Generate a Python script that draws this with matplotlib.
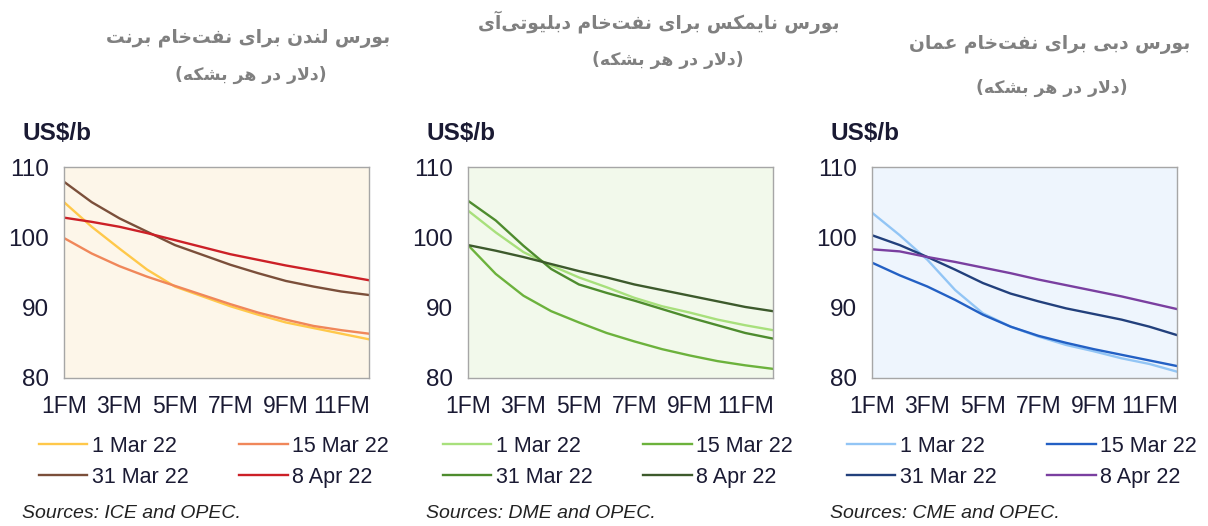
import numpy as np
import matplotlib
matplotlib.use('Agg')
import matplotlib.pyplot as plt

W, H = 1208, 526

months = np.arange(1, 13)
tick_months = [1, 3, 5, 7, 9, 11]
tick_labels = ['1FM', '3FM', '5FM', '7FM', '9FM', '11FM']
dates = ['1 Mar 22', '15 Mar 22', '31 Mar 22', '8 Apr 22']

# Brent (ICE)
brent_1mar = [105.0, 101.5, 98.4, 95.4, 93.0, 91.6, 90.2, 89.0, 87.9, 87.1, 86.3, 85.5]
brent_15mar = [99.9, 97.7, 95.9, 94.4, 93.1, 91.8, 90.5, 89.3, 88.3, 87.4, 86.8, 86.3]
brent_31mar = [107.9, 105.0, 102.7, 100.8, 98.9, 97.5, 96.1, 94.9, 93.8, 93.0, 92.3, 91.8]
brent_8apr = [102.8, 102.2, 101.5, 100.6, 99.6, 98.6, 97.6, 96.8, 96.0, 95.3, 94.6, 93.9]

# WTI (DME)
wti_1mar = [103.8, 100.7, 97.9, 96.0, 94.3, 92.9, 91.4, 90.2, 89.3, 88.3, 87.5, 86.8]
wti_15mar = [98.9, 94.8, 91.7, 89.5, 87.9, 86.4, 85.2, 84.1, 83.2, 82.4, 81.8, 81.3]
wti_31mar = [105.2, 102.4, 98.8, 95.5, 93.3, 92.1, 91.0, 89.8, 88.6, 87.5, 86.4, 85.6]
wti_8apr = [98.9, 98.1, 97.2, 96.2, 95.2, 94.3, 93.3, 92.5, 91.7, 90.9, 90.1, 89.5]

# Oman (CME)
oman_1mar = [103.5, 100.3, 96.8, 92.5, 89.2, 87.3, 85.9, 84.7, 83.8, 82.8, 82.0, 80.9]
oman_15mar = [96.4, 94.6, 93.0, 91.1, 89.0, 87.3, 86.0, 85.0, 84.1, 83.3, 82.5, 81.7]
oman_31mar = [100.3, 98.9, 97.2, 95.4, 93.5, 92.0, 90.9, 89.9, 89.1, 88.3, 87.3, 86.1]
oman_8apr = [98.3, 98.0, 97.2, 96.5, 95.7, 94.9, 94.0, 93.2, 92.4, 91.6, 90.7, 89.8]

titles = ['بورس لندن برای نفت\u200cخام برنت',
          'بورس نایمکس برای نفت\u200cخام دبلیوتی\u200cآی',
          'بورس دبی برای نفت\u200cخام عمان']
subtitle = '(دلار در هر بشکه)'
sources = ['Sources: ICE and OPEC.', 'Sources: DME and OPEC.', 'Sources: CME and OPEC.']

# isolated, final, initial, medial (None = right-joining only)
FORMS = {
    'ا': (0xFE8D, 0xFE8E, None, None), 'آ': (0xFE81, 0xFE82, None, None),
    'ب': (0xFE8F, 0xFE90, 0xFE91, 0xFE92), 'پ': (0xFB56, 0xFB57, 0xFB58, 0xFB59),
    'ت': (0xFE95, 0xFE96, 0xFE97, 0xFE98), 'خ': (0xFEA5, 0xFEA6, 0xFEA7, 0xFEA8),
    'د': (0xFEA9, 0xFEAA, None, None), 'ر': (0xFEAD, 0xFEAE, None, None),
    'س': (0xFEB1, 0xFEB2, 0xFEB3, 0xFEB4), 'ش': (0xFEB5, 0xFEB6, 0xFEB7, 0xFEB8),
    'ع': (0xFEC9, 0xFECA, 0xFECB, 0xFECC), 'ف': (0xFED1, 0xFED2, 0xFED3, 0xFED4),
    'ک': (0xFB8E, 0xFB8F, 0xFB90, 0xFB91), 'ل': (0xFEDD, 0xFEDE, 0xFEDF, 0xFEE0),
    'م': (0xFEE1, 0xFEE2, 0xFEE3, 0xFEE4), 'ن': (0xFEE5, 0xFEE6, 0xFEE7, 0xFEE8),
    'ه': (0xFEE9, 0xFEEA, 0xFEEB, 0xFEEC), 'و': (0xFEED, 0xFEEE, None, None),
    'ی': (0xFBFC, 0xFBFD, 0xFBFE, 0xFBFF),
}
MIRROR = {'(': ')', ')': '('}


def shape_fa(s):
    """Crude Persian shaping + visual reordering (matplotlib has no bidi)."""
    chars = list(s)
    res = []
    i = 0
    while i < len(chars):
        c = chars[i]
        if c not in FORMS:
            res.append(c)
            i += 1
            continue
        prev = chars[i - 1] if i > 0 else ''
        joins_prev = prev in FORMS and FORMS[prev][2] is not None
        if c == 'ل' and i + 1 < len(chars) and chars[i + 1] in 'اآ':
            lig = (0xFEFC, 0xFEFB) if chars[i + 1] == 'ا' else (0xFEF6, 0xFEF5)
            res.append(chr(lig[0] if joins_prev else lig[1]))
            i += 2
            continue
        nxt = chars[i + 1] if i + 1 < len(chars) else ''
        joins_next = FORMS[c][2] is not None and nxt in FORMS
        f = FORMS[c]
        if joins_prev and joins_next:
            res.append(chr(f[3]))
        elif joins_next:
            res.append(chr(f[2]))
        elif joins_prev:
            res.append(chr(f[1]))
        else:
            res.append(chr(f[0]))
        i += 1
    res = [MIRROR.get(c, c) for c in res if c != '\u200c']
    return ''.join(res[::-1])


def px(x, y):
    return x / W, 1 - y / H


panels = [
    dict(series=[brent_1mar, brent_15mar, brent_31mar, brent_8apr],
         colors=['#ffc84a', '#f0875a', '#7b4f3a', '#cc2027'], bg='#fdf6e9',
         left=64, title_xy=(248, 38), sub_xy=(251, 75)),
    dict(series=[wti_1mar, wti_15mar, wti_31mar, wti_8apr],
         colors=['#a8e07c', '#6cb23c', '#4e8c2e', '#3d5a2c'], bg='#f2f9eb',
         left=468, title_xy=(659, 22), sub_xy=(668, 60)),
    dict(series=[oman_1mar, oman_15mar, oman_31mar, oman_8apr],
         colors=['#92c5f5', '#2360c4', '#22407c', '#7a3fa0'], bg='#eef5fd',
         left=872, title_xy=(1050, 45), sub_xy=(1052, 88)),
]

fig = plt.figure(figsize=(W / 100, H / 100), dpi=100)
plt.rcParams['font.family'] = ['Liberation Sans', 'DejaVu Sans']
txt_col = '#1a1a33'

for k, p in enumerate(panels):
    l, b = px(p['left'], 378)
    ax = fig.add_axes([l, b, 305 / W, 211 / H])
    ax.set_facecolor(p['bg'])
    lines = []
    for s, c, lab in zip(p['series'], p['colors'], dates):
        lines += ax.plot(months, s, color=c, lw=1.7, label=lab)
    ax.set_xlim(1, 12)
    ax.set_ylim(80, 110)
    ax.set_yticks([80, 90, 100, 110])
    ax.set_xticks(tick_months)
    ax.set_xticklabels(tick_labels)
    ax.tick_params(length=0, labelsize=16.5, colors=txt_col)
    ax.tick_params(axis='y', labelsize=17.5, pad=11)
    ax.tick_params(axis='x', pad=12)
    for sp in ax.spines.values():
        sp.set_color('#a6a6a6')
        sp.set_linewidth(1)

    x0 = p['left'] - 42
    fig.text(*px(x0, 133), 'US$/b', fontsize=17.5, fontweight='bold',
             color=txt_col, va='center', ha='left')
    fig.text(*px(x0, 513), sources[k], fontsize=14, style='italic',
             color='#222222', va='center', ha='left')

    fig.text(*px(*p['title_xy']), shape_fa(titles[k]), family='DejaVu Sans',
             fontsize=13.4, fontweight='bold', color='#808080',
             ha='center', va='center')
    fig.text(*px(*p['sub_xy']), shape_fa(subtitle), family='DejaVu Sans',
             fontsize=12.4, fontweight='bold', color='#808080',
             ha='center', va='center')

    # row-wise order: 1 Mar, 15 Mar / 31 Mar, 8 Apr
    order = [0, 2, 1, 3]
    ax.legend([lines[i] for i in order], [dates[i] for i in order],
              ncol=2, loc='upper left', frameon=False,
              bbox_to_anchor=px(p['left'] - 25, 436), bbox_transform=fig.transFigure,
              fontsize=15.5, handlelength=2.25, handletextpad=0.2,
              columnspacing=2.35, labelspacing=0.45, borderpad=0, borderaxespad=0,
              labelcolor=txt_col)

fig.savefig('out.png', dpi=100)
